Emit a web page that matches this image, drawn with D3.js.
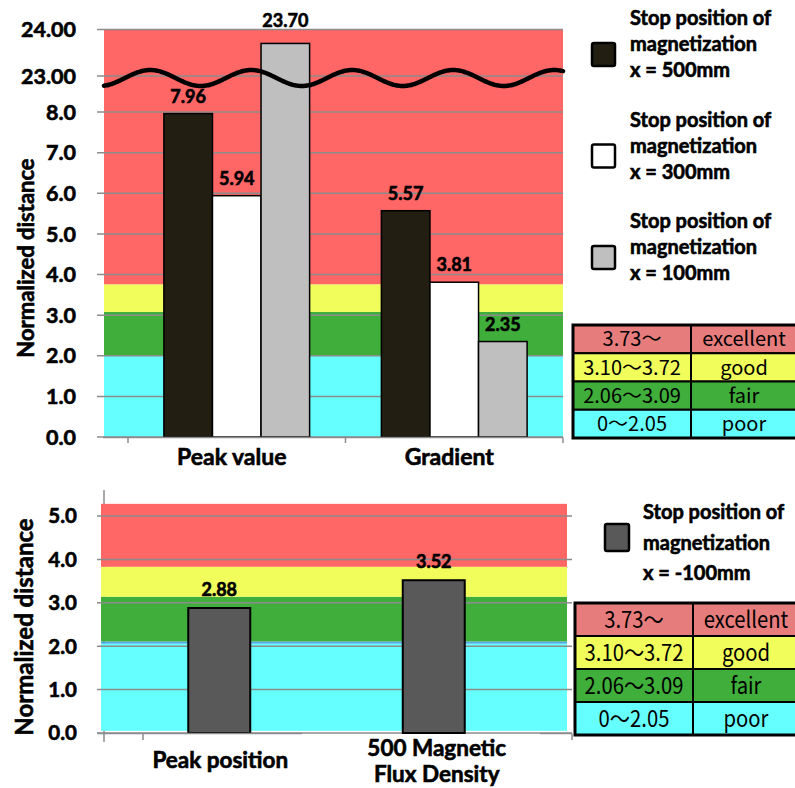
<!DOCTYPE html>
<html>
<head>
<meta charset="utf-8">
<script src="https://cdn.jsdelivr.net/npm/d3@7"></script>
<style>
  html, body { margin: 0; padding: 0; background: #fff; }
  svg { display: block; }
  .lbl { font-family: Lato, "Open Sans", sans-serif; font-weight: 700; fill: #000; stroke: #000; stroke-width: 0.6px; }
  .tbl { font-family: "Noto Sans CJK JP", sans-serif; font-weight: 400; fill: #000; }
</style>
</head>
<body>
<svg id="chart" width="795" height="788"></svg>
<script>
// ---- data ----
const topCategories = ["Peak value", "Gradient"];
const topSeries = ["x = 500mm", "x = 300mm", "x = 100mm"];
const values500 = [7.96, 5.57];
const values300 = [5.94, 3.81];
const values100 = [23.70, 2.35];
const topTicksLower = [0, 1, 2, 3, 4, 5, 6, 7, 8];
const topTicksUpper = [23, 24];

const bottomCategories = [["Peak position"], ["500 Magnetic", "Flux Density"]];
const bottomSeries = ["x = -100mm"];
const valuesMinus100 = [2.88, 3.52];
const bottomTicks = [0, 1, 2, 3, 4, 5];

const gradeRanges = ["3.73\u301C", "3.10\u301C3.72", "2.06\u301C3.09", "0\u301C2.05"];
const gradeNames = ["excellent", "good", "fair", "poor"];
const gradeColors = ["#e67c7c", "#f0fd5a", "#3fae3a", "#66ffff"];

// rating bands behind each chart (value ranges)
const topBands = [
  { lo: 0, hi: 2.0, color: "#66ffff" },
  { lo: 2.0, hi: 3.08, color: "#3fae3a" },
  { lo: 3.08, hi: 3.76, color: "#f0fd5a" },
  { lo: 3.76, hi: 24, color: "#ff6666" }
];
const bottomBands = [
  { lo: 0.05, hi: 2.06, color: "#66ffff" },
  { lo: 2.06, hi: 2.11, color: "#4ca8e8" },
  { lo: 2.11, hi: 3.14, color: "#3fae3a" },
  { lo: 3.14, hi: 3.83, color: "#f0fd5a" },
  { lo: 3.83, hi: 5.28, color: "#ff6666" }
];

const seriesFill = { "x = 500mm": "#221e12", "x = 300mm": "#ffffff", "x = 100mm": "#bfbfbf", "x = -100mm": "#595959" };
const gridColor = "#8c8c8c";

const svg = d3.select("#chart");
svg.append("rect").attr("width", 795).attr("height", 788).attr("fill", "#fff");

// ================= upper chart (broken value axis) =================
const yTop = d3.scaleLinear().domain([0, 8, 23, 24]).range([437, 112, 76, 29.5]);
const xTop = d3.scaleBand().domain(topCategories).range([128, 563]).paddingInner(0.33).paddingOuter(0.165);
const xTopInner = d3.scaleBand().domain(topSeries).range([0, xTop.bandwidth()]);
const plotLeftTop = 104, plotRightTop = 563;

const gTop = svg.append("g");
gTop.selectAll("rect.band").data(topBands).join("rect")
  .attr("x", plotLeftTop).attr("width", plotRightTop - plotLeftTop)
  .attr("y", d => yTop(d.hi)).attr("height", d => yTop(d.lo) - yTop(d.hi))
  .attr("fill", d => d.color);

const topTicks = topTicksLower.concat(topTicksUpper);
gTop.selectAll("line.grid").data(topTicks).join("line")
  .attr("x1", 97).attr("x2", plotRightTop)
  .attr("y1", d => yTop(d)).attr("y2", d => yTop(d))
  .attr("stroke", gridColor).attr("stroke-width", 1.5);

gTop.selectAll("text.tick").data(topTicks).join("text")
  .attr("class", "lbl")
  .attr("x", 76).attr("y", d => yTop(d)).attr("dy", "0.36em")
  .attr("text-anchor", "end").attr("font-size", 21.5)
  .text(d => d >= 23 ? d3.format(".2f")(d) : d3.format(".1f")(d));

// bars
const topRows = [];
topCategories.forEach((c, i) => {
  topRows.push({ cat: c, ser: topSeries[0], v: values500[i] });
  topRows.push({ cat: c, ser: topSeries[1], v: values300[i] });
  topRows.push({ cat: c, ser: topSeries[2], v: values100[i] });
});
gTop.selectAll("rect.bar").data(topRows).join("rect")
  .attr("x", d => xTop(d.cat) + xTopInner(d.ser))
  .attr("width", xTopInner.bandwidth())
  .attr("y", d => yTop(d.v)).attr("height", d => yTop(0) - yTop(d.v))
  .attr("fill", d => seriesFill[d.ser]).attr("stroke", "#000").attr("stroke-width", 1.5);

gTop.selectAll("text.val").data(topRows).join("text")
  .attr("class", "lbl").attr("font-size", 18).attr("text-anchor", "middle")
  .attr("x", d => xTop(d.cat) + xTopInner(d.ser) + xTopInner.bandwidth() / 2)
  .attr("y", d => yTop(d.v) - (d.v > 8 ? 16 : 11))
  .text(d => d3.format(".2f")(d.v));

// axis-break wave across the plot
const waveCenter = yTop(23) + 2;
const waveXs = d3.range(plotLeftTop, plotRightTop + 1, 1);
gTop.append("path")
  .attr("d", d3.line().curve(d3.curveBasis)(waveXs.map(x => [x, waveCenter - 8 * Math.sin(2 * Math.PI * (x - 125) / 101)])))
  .attr("fill", "none").attr("stroke", "#000").attr("stroke-width", 4.5).attr("stroke-linecap", "round");

// category axis
gTop.append("line").attr("x1", 103).attr("x2", plotRightTop).attr("y1", 437.5).attr("y2", 437.5)
  .attr("stroke", gridColor).attr("stroke-width", 1.5);
const topCatTicks = d3.range(topCategories.length + 1).map(i => xTop.range()[0] + i * xTop.step());
gTop.selectAll("line.ctick").data(topCatTicks).join("line")
  .attr("x1", d => d).attr("x2", d => d).attr("y1", 437.5).attr("y2", 443)
  .attr("stroke", gridColor).attr("stroke-width", 1.5);
gTop.selectAll("text.cat").data(topCategories).join("text")
  .attr("class", "lbl").attr("font-size", 23).attr("text-anchor", "middle")
  .attr("x", d => xTop(d) + xTop.bandwidth() / 2 - 5).attr("y", 465)
  .text(d => d);

gTop.append("text").attr("class", "lbl").attr("font-size", 22)
  .attr("transform", "translate(25,258) rotate(-90)")
  .attr("text-anchor", "middle").attr("dominant-baseline", "central")
  .text("Normalized distance");

// legend
const legTop = svg.append("g");
topSeries.forEach((s, i) => {
  const y0 = 18 + i * 101.5;
  legTop.append("rect").attr("x", 592).attr("y", y0 + 25).attr("width", 23).attr("height", 23).attr("rx", 2)
    .attr("fill", seriesFill[s]).attr("stroke", "#000").attr("stroke-width", 2.5);
  ["Stop position of", "magnetization", s].forEach((t, j) => {
    legTop.append("text").attr("class", "lbl").attr("font-size", 20)
      .attr("x", 630).attr("y", y0 + j * 26).attr("dy", "0.36em").text(t);
  });
});

// rating table
function drawTable(g, x, y, colW, rowH, fontSize, sx) {
  gradeNames.forEach((name, i) => {
    const ry = y + i * rowH;
    g.append("rect").attr("x", x).attr("y", ry).attr("width", colW[0]).attr("height", rowH)
      .attr("fill", gradeColors[i]).attr("stroke", "#000").attr("stroke-width", 2);
    g.append("rect").attr("x", x + colW[0]).attr("y", ry).attr("width", colW[1]).attr("height", rowH)
      .attr("fill", gradeColors[i]).attr("stroke", "#000").attr("stroke-width", 2);
    [[gradeRanges[i], x + colW[0] / 2], [name, x + colW[0] + 53]].forEach(([t, cx]) => {
      g.append("text").attr("class", "tbl").attr("font-size", fontSize).attr("text-anchor", "middle")
        .attr("transform", `translate(${cx},${ry + rowH / 2}) scale(${sx},1)`)
        .attr("dy", "0.36em").text(t);
    });
  });
  g.append("rect").attr("x", x).attr("y", y).attr("width", colW[0] + colW[1]).attr("height", rowH * gradeNames.length)
    .attr("fill", "none").attr("stroke", "#000").attr("stroke-width", 3);
}
drawTable(svg.append("g"), 573, 325, [118, 110], 28.25, 20, 1);

// ================= lower chart =================
const yBot = d3.scaleLinear().domain([0, 5]).range([733, 516]);
const xBot = d3.scaleBand().domain(bottomCategories.map(d => d.join(" "))).range([112, 541]).paddingInner(0.711).paddingOuter(0.3555);
const plotLeftBot = 101, plotRightBot = 567;

const gBot = svg.append("g");
gBot.append("line").attr("x1", 104).attr("x2", 104).attr("y1", 490).attr("y2", 742)
  .attr("stroke", gridColor).attr("stroke-width", 1.5);
gBot.selectAll("rect.band").data(bottomBands).join("rect")
  .attr("x", plotLeftBot).attr("width", plotRightBot - plotLeftBot)
  .attr("y", d => yBot(d.hi)).attr("height", d => yBot(d.lo) - yBot(d.hi))
  .attr("fill", d => d.color);
gBot.selectAll("line.grid").data(bottomTicks).join("line")
  .attr("x1", 97).attr("x2", 572)
  .attr("y1", d => yBot(d)).attr("y2", d => yBot(d))
  .attr("stroke", gridColor).attr("stroke-width", 1.5);
gBot.selectAll("text.tick").data(bottomTicks).join("text")
  .attr("class", "lbl")
  .attr("x", 77).attr("y", d => yBot(d)).attr("dy", "0.36em")
  .attr("text-anchor", "end").attr("font-size", 20.5)
  .text(d => d3.format(".1f")(d));

const botRows = bottomCategories.map((c, i) => ({ cat: c.join(" "), ser: bottomSeries[0], v: valuesMinus100[i] }));
gBot.selectAll("rect.bar").data(botRows).join("rect")
  .attr("x", d => xBot(d.cat)).attr("width", xBot.bandwidth())
  .attr("y", d => yBot(d.v)).attr("height", d => yBot(0) - yBot(d.v))
  .attr("fill", d => seriesFill[d.ser]).attr("stroke", "#000").attr("stroke-width", 2);
gBot.selectAll("text.val").data(botRows).join("text")
  .attr("class", "lbl").attr("font-size", 18).attr("text-anchor", "middle")
  .attr("x", d => xBot(d.cat) + xBot.bandwidth() / 2)
  .attr("y", d => yBot(d.v) - 12)
  .text(d => d3.format(".2f")(d.v));

// category axis (partly hidden behind the label box)
gBot.append("line").attr("x1", 97).attr("x2", 302).attr("y1", 733.5).attr("y2", 733.5)
  .attr("stroke", gridColor).attr("stroke-width", 1.5);
gBot.append("line").attr("x1", 540).attr("x2", 572).attr("y1", 733.5).attr("y2", 733.5)
  .attr("stroke", gridColor).attr("stroke-width", 1.5);
[143, 572].forEach(t => gBot.append("line").attr("x1", t).attr("x2", t).attr("y1", 733.5).attr("y2", 740)
  .attr("stroke", gridColor).attr("stroke-width", 1.5));

bottomCategories.forEach(c => {
  const cx = xBot(c.join(" ")) + xBot.bandwidth() / 2 + (c.length > 1 ? 3 : 1);
  const t = gBot.append("text").attr("class", "lbl").attr("font-size", 22.5).attr("text-anchor", "middle");
  c.forEach((line, j) => {
    t.append("tspan").attr("x", cx).attr("y", (c.length > 1 ? 756 : 768) + j * 26).text(line);
  });
});

gBot.append("text").attr("class", "lbl").attr("font-size", 24)
  .attr("transform", "translate(23,627) rotate(-90)")
  .attr("text-anchor", "middle").attr("dominant-baseline", "central")
  .text("Normalized distance");

// legend
const legBot = svg.append("g");
legBot.append("rect").attr("x", 605).attr("y", 524).attr("width", 24).attr("height", 27).attr("rx", 2)
  .attr("fill", seriesFill[bottomSeries[0]]).attr("stroke", "#000").attr("stroke-width", 2.5);
["Stop position of", "magnetization", bottomSeries[0]].forEach((t, j) => {
  legBot.append("text").attr("class", "lbl").attr("font-size", 20)
    .attr("x", 643).attr("y", 512 + j * 30.5).attr("dy", "0.36em").text(t);
});

drawTable(svg.append("g"), 575, 603, [118, 110], 33, 23, 0.88);
</script>
</body>
</html>
